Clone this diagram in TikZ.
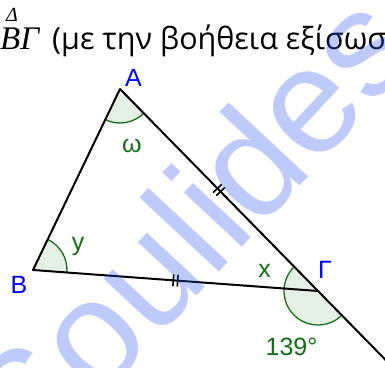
\documentclass[tikz,border=0pt]{standalone}
\usepackage{fontspec}
\setmainfont{Liberation Sans}
\newfontfamily\obenfont{Open Sans}
\newfontfamily\kursivfont{Liberation Serif}
\usetikzlibrary{angles,calc,decorations.markings}

\definecolor{ggruen}{RGB}{20,110,20}
\definecolor{gfuell}{RGB}{229,240,229}
\definecolor{gblau}{RGB}{0,0,255}
\definecolor{wzblau}{RGB}{40,80,240}

\begin{document}
\begin{tikzpicture}[x=1pt,y=1pt,
	ecke/.style={text=gblau, font=\fontsize{25}{25}\selectfont, inner sep=0pt, anchor=base},
	winkeltext/.style={text=ggruen, font=\fontsize{25}{25}\selectfont, inner sep=0pt, anchor=base},
	winkel/.style={draw=ggruen, fill=gfuell, line width=1.3pt, angle radius=\R pt},
	seite/.style={line width=2pt, black, line cap=round},
	gleich/.style={postaction={decorate}, decoration={markings,
		mark=at position 0.5 with {\draw[line width=1.6pt] (-2.2pt,-5.5pt) -- (-2.2pt,5.5pt) (2.2pt,-5.5pt) -- (2.2pt,5.5pt);}}}
	]

	% Rahmen
	\useasboundingbox (0,0) rectangle (385,367);
	\clip (0,0) rectangle (385,367);

	% Winkelradius
	\def\R{34}

	% Ecken
	\coordinate (A) at (120,278);
	\coordinate (B) at (33,97);
	\coordinate (G) at (318,76);
	\coordinate (E) at ($(A)!1.45!(G)$);

	% Winkel
	\pic[winkel] {angle=B--A--G};
	\pic[winkel] {angle=G--B--A};
	\pic[winkel] {angle=A--G--B};
	\pic[winkel] {angle=B--G--E};

	% Seiten
	\draw[seite] (A) -- (B);
	\draw[seite, gleich] (B) -- (G);
	\draw[seite, gleich] (A) -- (G);
	\draw[seite] (G) -- (E);

	% Eckenbeschriftung
	\node[ecke] (lA) at (133.5,280) {A};
	\node[ecke] (lB) at (19,74) {B};
	\node[ecke] (lG) at (325,89) {Γ};

	% Winkelbeschriftung
	\node[winkeltext] (lw) at (132,214) {ω};
	\node[winkeltext] (ly) at (78,117) {y};
	\node[winkeltext] (lx) at (264.5,90) {x};
	\node[winkeltext] (l139) at (291.5,12) {139°};

	% Text oben
	\node[inner sep=0pt, anchor=base west, font=\kursivfont\itshape\fontsize{33}{33}\selectfont] (bg) at (0,317) {ΒΓ};
	\node[inner sep=0pt, anchor=base, font=\kursivfont\itshape\fontsize{20}{20}\selectfont] (delta) at (12,345) {Δ};
	\node[inner sep=0pt, anchor=base west, font=\obenfont\fontsize{30.5}{30.5}\selectfont] (satz) at (52,317) {(με την βοήθεια εξίσωσ};

	% Wasserzeichen
	\node[rotate=47, anchor=base west, inner sep=0pt, text=wzblau, text opacity=.3,
		font=\fontsize{150}{150}\selectfont] (wz) at (30.5,-107.5) {Soulides};

\end{tikzpicture}
\end{document}
